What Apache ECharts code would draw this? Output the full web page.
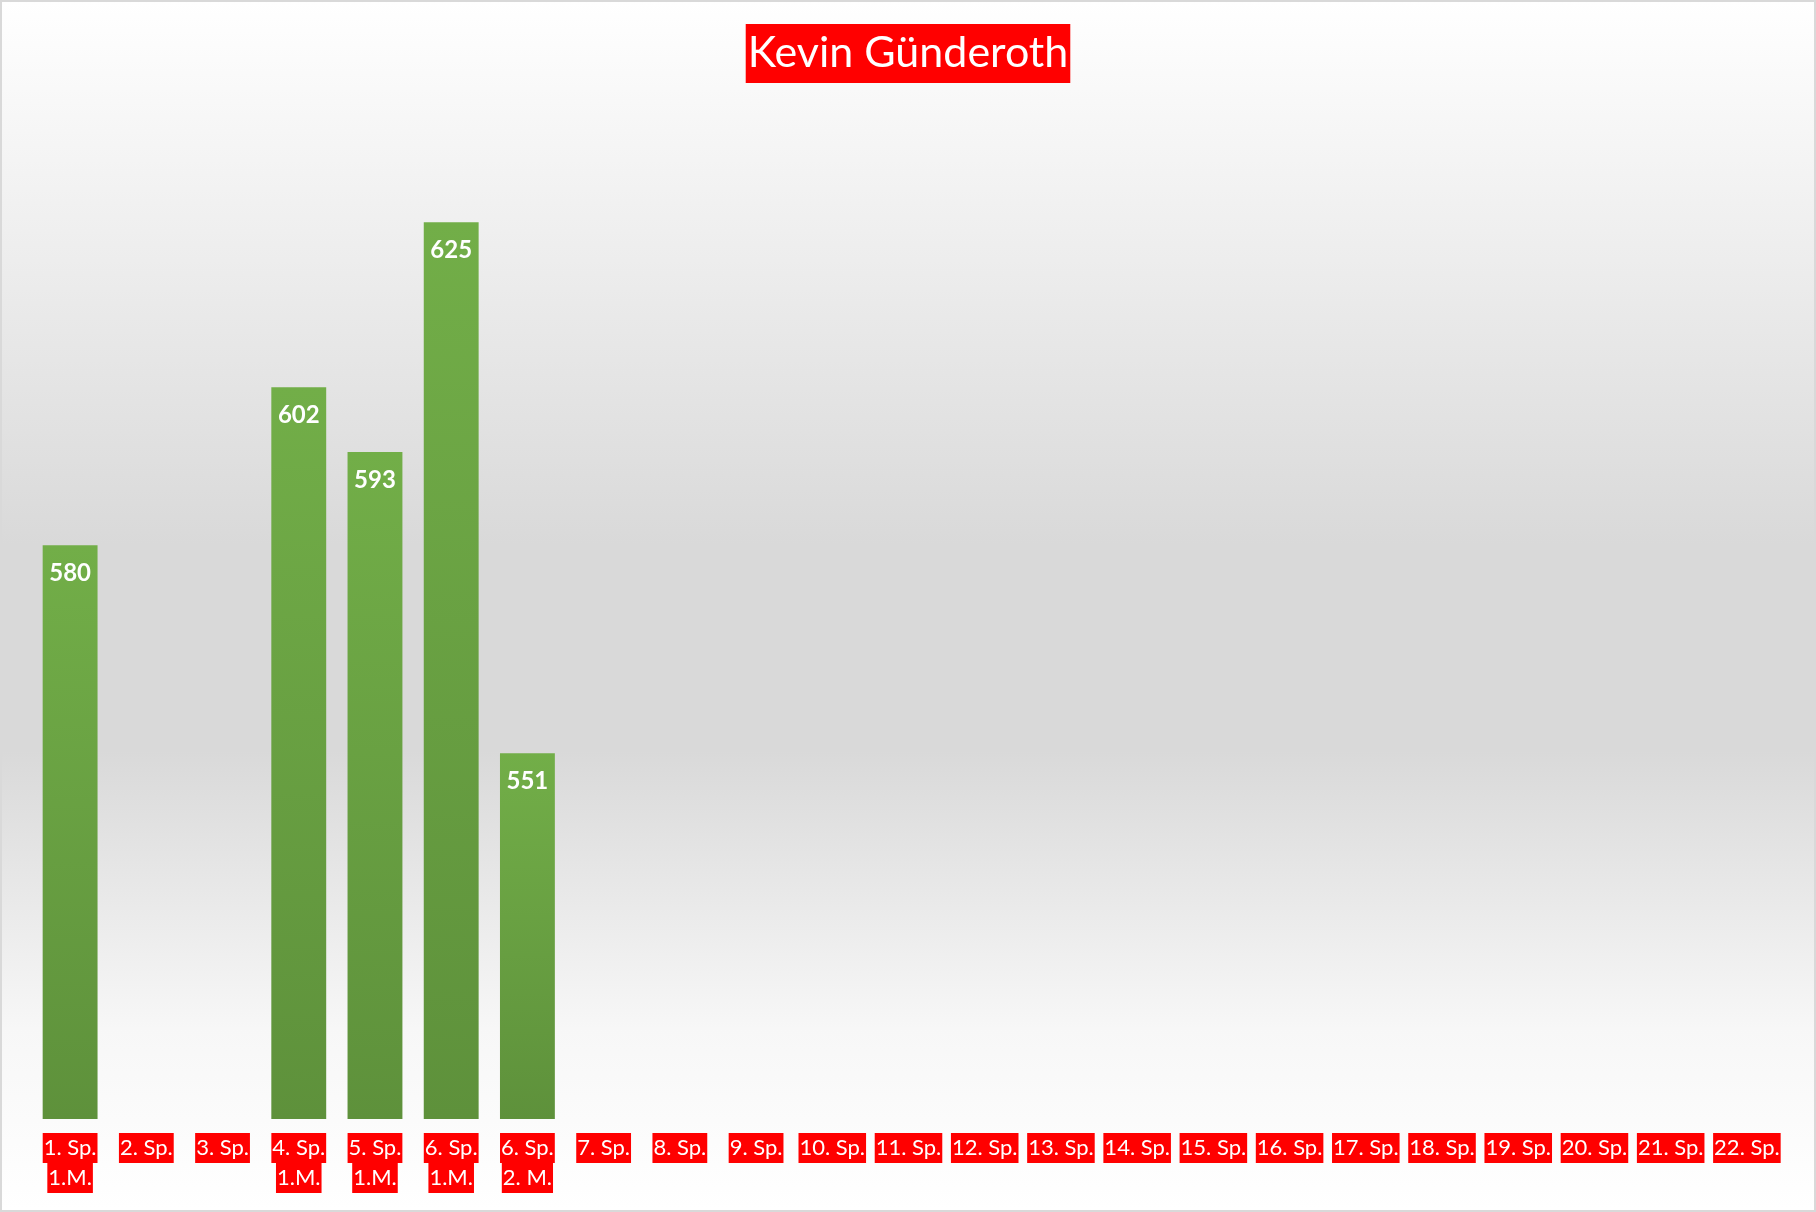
<!DOCTYPE html>
<html>
<head>
<meta charset="utf-8">
<script src="https://cdn.jsdelivr.net/npm/echarts@6/dist/echarts.min.js"></script>
<style>
  body { margin: 0; }
  #chart {
    width: 1816px;
    height: 1212px;
    box-sizing: border-box;
    border: 2px solid #d9d9d9;
  }
</style>
</head>
<body>
<div id="chart"></div>
<script>
  // Spieltage
  const categories = [
    '1. Sp.\n1.M.', '2. Sp.', '3. Sp.', '4. Sp.\n1.M.', '5. Sp.\n1.M.', '6. Sp.\n1.M.', '6. Sp.\n2. M.',
    '7. Sp.', '8. Sp.', '9. Sp.', '10. Sp.', '11. Sp.', '12. Sp.', '13. Sp.', '14. Sp.',
    '15. Sp.', '16. Sp.', '17. Sp.', '18. Sp.', '19. Sp.', '20. Sp.', '21. Sp.', '22. Sp.'
  ];
  // Ergebnisse (leer = noch nicht gespielt)
  const scores = [580, null, null, 602, 593, 625, 551,
    null, null, null, null, null, null, null, null, null, null, null, null, null, null, null, null];
  const playerName = 'Kevin Günderoth';

  const chart = echarts.init(document.getElementById('chart'));
  chart.setOption({
    backgroundColor: {
      type: 'linear', x: 0, y: 0, x2: 0, y2: 1,
      colorStops: [
        { offset: 0, color: '#ffffff' },
        { offset: 0.45, color: '#d9d9d9' },
        { offset: 0.62, color: '#d9d9d9' },
        { offset: 0.85, color: '#f7f7f7' },
        { offset: 1, color: '#ffffff' }
      ]
    },
    animation: false,
    title: {
      text: playerName,
      left: 'center',
      top: 22,
      backgroundColor: '#ff0000',
      padding: [5, 2, 6, 2],
      textStyle: {
        color: '#fff',
        fontFamily: 'Lato',
        fontWeight: 'normal',
        fontSize: 43,
        lineHeight: 48
      }
    },
    grid: { left: 30, right: 29, top: 41, bottom: 91 },
    xAxis: {
      type: 'category',
      data: categories,
      axisLine: { show: false },
      axisTick: { show: false },
      axisLabel: {
        interval: 0,
        margin: 14,
        formatter: function (v) {
          return v.split('\n').map(s => '{a|' + s + '}').join('\n');
        },
        rich: {
          a: {
            color: '#fff',
            backgroundColor: '#ff0000',
            fontFamily: 'Lato',
            fontSize: 22,
            height: 30,
            lineHeight: 30,
            padding: [0, 1, 0, 1]
          }
        }
      }
    },
    yAxis: {
      type: 'value',
      min: 500,
      max: 650,
      interval: 50,
      show: false
    },
    series: [{
      type: 'bar',
      data: scores,
      barCategoryGap: '28%',
      itemStyle: {
        color: {
          type: 'linear', x: 0, y: 0, x2: 0, y2: 1,
          colorStops: [
            { offset: 0, color: '#72ae48' },
            { offset: 1, color: '#5e913b' }
          ]
        }
      },
      label: {
        show: true,
        position: 'insideTop',
        distance: 16,
        color: '#fff',
        fontFamily: 'Lato',
        fontWeight: 'bold',
        fontSize: 24
      }
    }]
  });
</script>
</body>
</html>
